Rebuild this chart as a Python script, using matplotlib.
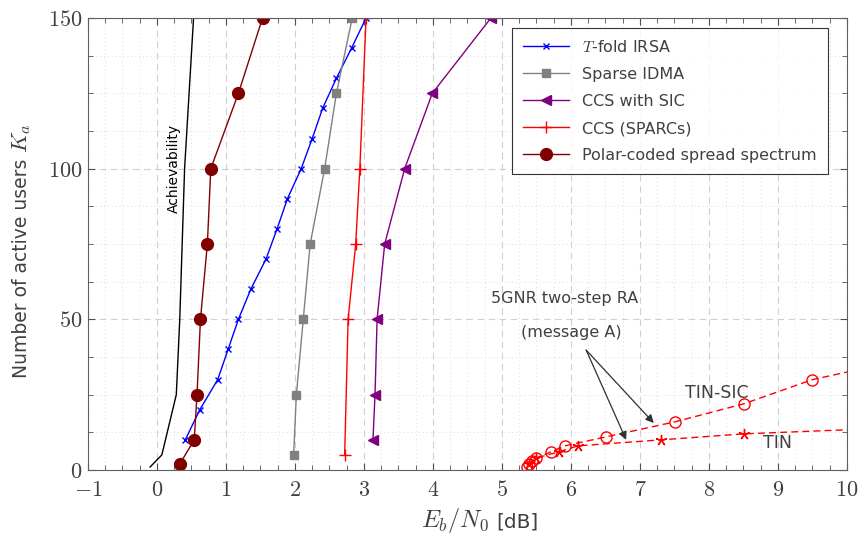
import matplotlib
matplotlib.use("Agg")
import matplotlib.pyplot as plt
from matplotlib.ticker import MultipleLocator, FuncFormatter

plt.rcParams['mathtext.fontset'] = 'cm'
plt.rcParams['font.family'] = ['DejaVu Sans']

TXT = '#404040'

# --- data ---
ach_x = [-0.1, 0.07, 0.28, 0.33, 0.40, 0.53]
ach_y = [1, 5, 25, 50, 100, 150]

irsa_x = [0.41, 0.62, 0.88, 1.03, 1.18, 1.36, 1.58, 1.74, 1.89, 2.09, 2.25, 2.40, 2.60, 2.82, 3.03]
irsa_y = [10, 20, 30, 40, 50, 60, 70, 80, 90, 100, 110, 120, 130, 140, 150]

idma_x = [1.98, 2.02, 2.12, 2.22, 2.43, 2.60, 2.83]
idma_y = [5, 25, 50, 75, 100, 125, 150]

sic_x = [3.13, 3.16, 3.19, 3.30, 3.59, 3.99, 4.84]
sic_y = [10, 25, 50, 75, 100, 125, 150]

sparc_x = [2.72, 2.77, 2.88, 2.94, 3.03]
sparc_y = [5, 50, 75, 100, 150]

polar_x = [0.33, 0.54, 0.58, 0.63, 0.73, 0.78, 1.18, 1.53]
polar_y = [2, 10, 25, 50, 75, 100, 125, 150]

tinsic_x = [5.36, 5.39, 5.43, 5.50, 5.71, 5.91, 6.51, 7.51, 8.51, 9.50, 10.5]
tinsic_y = [1, 2, 3, 4, 6, 8, 11, 16, 22, 30, 35]

tin_x = [5.39, 5.50, 5.82, 6.10, 7.30, 8.51, 10.5]
tin_y = [2, 4, 6, 8, 10, 12, 13.8]

fig = plt.figure(figsize=(8.61, 5.35), dpi=100)
ax = fig.add_axes([0.1022, 0.1215, 0.8815, 0.8449])

ax.plot(ach_x, ach_y, color='black', lw=1)
ax.plot(irsa_x, irsa_y, color='#0000ff', lw=1, marker='x', ms=5, mew=1,
        label=r'$T$-fold IRSA')
ax.plot(idma_x, idma_y, color='#808080', lw=1, marker='s', ms=6,
        label='Sparse IDMA')
ax.plot(sic_x, sic_y, color='#800080', lw=1, marker='<', ms=7.5,
        label='CCS with SIC')
ax.plot(sparc_x, sparc_y, color='#ff0000', lw=1, marker='+', ms=8, mew=1,
        label='CCS (SPARCs)')
ax.plot(polar_x, polar_y, color='#800000', lw=1, marker='o', ms=8.5,
        label='Polar-coded spread spectrum')
ax.plot(tinsic_x, tinsic_y, color='#ff0000', lw=1, ls=(0, (5, 3)),
        marker='o', ms=8, mfc='none', mew=1)
ax.plot(tin_x, tin_y, color='#ff0000', lw=1, ls=(0, (5, 3)),
        marker=(5, 2, 0), ms=8, mew=1)

ax.set_xlim(-1, 10)
ax.set_ylim(0, 150)
ax.xaxis.set_major_locator(MultipleLocator(1))
ax.xaxis.set_minor_locator(MultipleLocator(0.25))
ax.yaxis.set_major_locator(MultipleLocator(50))
ax.yaxis.set_minor_locator(MultipleLocator(12.5))
fmt = FuncFormatter(lambda v, p: r'$%g$' % v)
ax.xaxis.set_major_formatter(fmt)
ax.yaxis.set_major_formatter(fmt)
ax.tick_params(which='both', direction='in', top=True, right=True,
               colors='#505050', labelcolor=TXT, labelsize=16)
ax.tick_params(which='major', length=5)
ax.tick_params(which='minor', length=3.5)
ax.tick_params(axis='x', which='major', pad=7)
ax.tick_params(axis='y', which='major', pad=4)

ax.grid(which='major', color='#d0d0d0', ls=(0, (6, 4)), lw=0.8)
ax.grid(which='minor', color='#dcdcdc', ls=(0, (1, 3)), lw=0.7)
ax.set_axisbelow(True)
for s in ax.spines.values():
    s.set_color('#606060')

# axis labels: text and math parts sized separately
fig.text(496, 8, '[dB]', fontsize=14.5, color=TXT, ha='left', va='baseline',
         transform=None)
fig.text(489, 8, r'$E_b/N_0$', fontsize=17.5, color=TXT, ha='right',
         va='baseline', transform=None)
yl = fig.text(27, 535 - 378, 'Number of active users', fontsize=13.5,
              color=TXT, rotation=90, rotation_mode='anchor', ha='left',
              va='baseline', transform=None)
fig.canvas.draw()
bb = yl.get_window_extent()
fig.text(27, bb.y1 + 6, r'$K_a$', fontsize=16.5, color=TXT, rotation=90,
         rotation_mode='anchor', ha='left', va='baseline', transform=None)

ax.text(0.24, 100, 'Achievability', rotation=90, fontsize=10,
        ha='center', va='center', color='black')
ax.text(5.91, 56.8, '5GNR two-step RA', fontsize=11.5, ha='center',
        va='center', color=TXT)
ax.text(6.0, 45.5, '(message A)', fontsize=11.5, ha='center', va='center',
        color=TXT)
ax.text(8.12, 25.6, 'TIN-SIC', fontsize=12.5, ha='center', va='center', color=TXT)
ax.text(8.99, 9, 'TIN', fontsize=12.5, ha='center', va='center', color=TXT)
for tip in [(7.20, 15.6), (6.80, 10.0)]:
    ax.annotate('', xy=tip, xytext=(6.22, 39.8),
                arrowprops=dict(arrowstyle='-|>', color='#303030', lw=0.9,
                                shrinkA=0, shrinkB=0, mutation_scale=12))

leg = ax.legend(loc='upper right', bbox_to_anchor=(0.9855, 0.9957), fontsize=11.5,
                handlelength=2.9, frameon=True, fancybox=False,
                edgecolor='black', labelspacing=0.75, borderpad=0.7)
leg.get_frame().set_linewidth(0.8)
for t in leg.get_texts():
    t.set_color(TXT)

fig.savefig('out.png', dpi=100)
